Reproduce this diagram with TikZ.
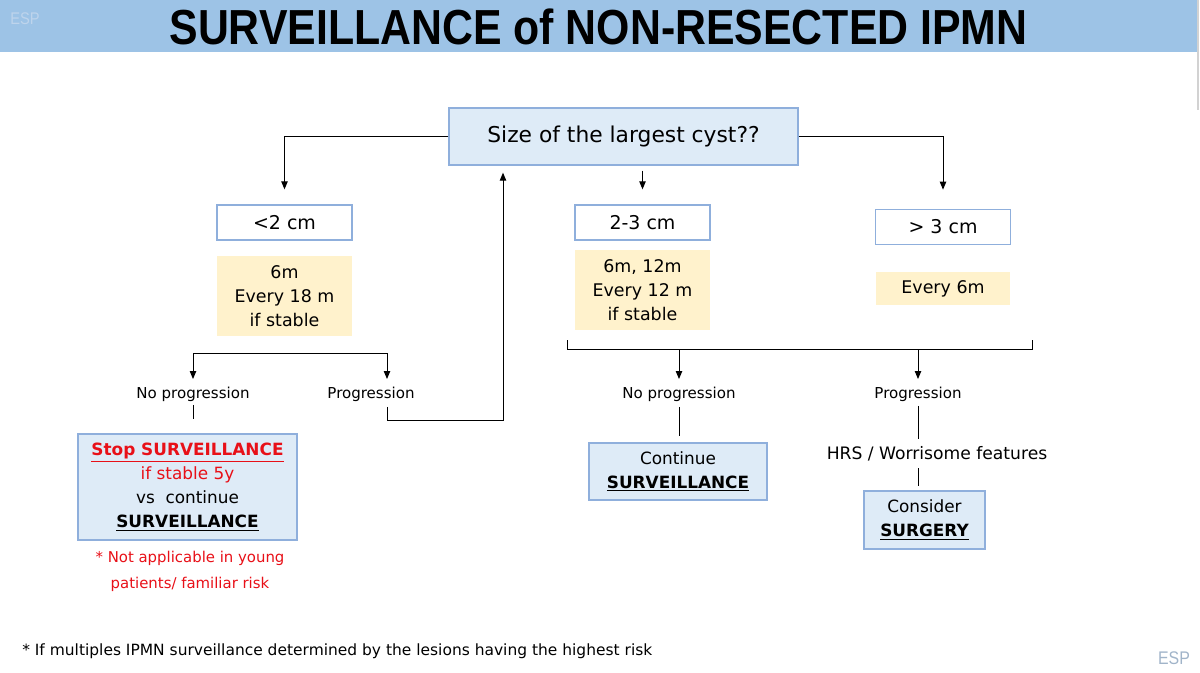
\documentclass[tikz,border=0pt]{standalone}
\usepackage{fontspec}
\setmainfont{DejaVu Sans}
\newfontfamily\titlefont[FakeStretch=0.87]{Liberation Sans}
\usetikzlibrary{arrows.meta,positioning,calc}
\definecolor{band}{RGB}{157,195,230}
\definecolor{pale}{RGB}{222,235,247}
\definecolor{frame}{RGB}{143,175,220}
\definecolor{cream}{RGB}{255,242,204}
\definecolor{piros}{RGB}{232,16,24}
\definecolor{esp}{RGB}{190,212,236}
\tikzset{
  arr/.style={-{Triangle[length=2mm,width=1.6mm]},line width=0.7pt},
  lin/.style={line width=0.7pt},
  qbox/.style={draw=frame,fill=pale,line width=0.9pt,minimum width=8.725cm,minimum height=1.425cm,font=\fontsize{15.5}{18}\selectfont},
  cat/.style={draw=frame,fill=white,line width=0.9pt,minimum width=3.375cm,minimum height=0.875cm,font=\fontsize{13.5}{16}\selectfont},
  freq/.style={fill=cream,minimum width=3.375cm,align=center,font=\fontsize{12.4}{17}\selectfont},
  res/.style={draw=frame,fill=pale,line width=0.9pt,align=center,font=\fontsize{12}{17}\selectfont},
  lbl/.style={inner sep=1pt,font=\fontsize{10.7}{13}\selectfont},
}

\begin{document}
\begin{tikzpicture}[x=0.025cm,y=-0.025cm]
  \useasboundingbox (0,0) rectangle (1200,672);
  % header
  \fill[band] (0,0) rectangle (1197,52);
  \draw[gray!35,line width=0.8pt] (1198,0) -- (1198,110);
  \node[text=esp,font=\titlefont\fontsize{12}{14}\selectfont] (esp1) at (25,19) {ESP};
  \node[font=\titlefont\bfseries\fontsize{35}{40}\selectfont] (title) at (598.5,27) {SURVEILLANCE of NON-RESECTED IPMN};
  \node[text=esp!85!black,font=\titlefont\fontsize{13}{15}\selectfont] (esp2) at (1174,658) {ESP};

  % question and size classes
  \node[qbox] (size) at (623.5,136.5) {Size of the largest cyst??};
  \node[cat] (lt2) at (284.5,222.5) {<2 cm};
  \node[cat] (mid) at (642.5,222.5) {2-3 cm};
  \node[cat] (gt3) at (943,227) {> 3 cm};
  \node[freq,minimum height=2cm,below=3.75mm of lt2] (f1) {6m\\Every 18 m\\if stable};
  \node[freq,minimum height=2cm,below=2.25mm of mid] (f2) {6m, 12m\\Every 12 m\\if stable};
  \node[freq,minimum width=3.35cm,minimum height=0.825cm,below=6.75mm of gt3] (f3) {Every 6m};

  \draw[arr,shorten >=3.75mm] (size.west) -| (lt2.north);
  \draw[arr,shorten >=4.8mm] (size.east) -| (gt3.north);
  \draw[arr,shorten <=1.25mm,shorten >=3.75mm] (mid.north |- size.south) -- (mid.north);

  % left branch
  \node[lbl] (nop1) at (193,394) {No progression};
  \node[lbl] (prog1) at (371,394) {Progression};
  \coordinate (b1l) at (193,353);
  \coordinate (b1r) at (387,353);
  \draw[arr,shorten >=1.5mm] (b1r) -- (b1l) -- (nop1.north);
  \draw[arr,shorten >=1.5mm] (b1r) -- (b1r |- prog1.north);
  \coordinate (ret) at (503,420);
  \draw[arr,shorten >=1.75mm] ([xshift=0.4cm,yshift=-0.1cm]prog1.south) |- (ret) -- (ret |- size.south);

  \node[res,minimum width=5.475cm,minimum height=2.65cm] (stop) at (187.5,487)
    {\textcolor{piros}{\textbf{\underline{Stop SURVEILLANCE}}}\\
     \textcolor{piros}{if stable 5y}\\
     vs\ \ continue\\
     \textbf{\underline{SURVEILLANCE}}};
  \draw[lin,shorten <=0.5mm,shorten >=3.5mm] (nop1.south) -- (nop1.south |- stop.north);
  \node[text=piros,align=center,font=\fontsize{10.6}{18.4}\selectfont] (note) at (190,571)
    {* Not applicable in young\\patients/ familiar risk};

  % right branch
  \coordinate (brl) at (567,340);
  \coordinate (brr) at (1032,340);
  \draw[lin] (brl) -- ++(0,9) -| (brr);
  \node[lbl] (nop2) at (679,394) {No progression};
  \node[lbl] (prog2) at (918,394) {Progression};
  \draw[arr,shorten >=1.5mm] (nop2.north |- 0,349) -- (nop2.north);
  \draw[arr,shorten >=1.5mm] (prog2.north |- 0,349) -- (prog2.north);

  \node[res,minimum width=4.45cm,minimum height=1.425cm] (cont) at (678,471.5)
    {Continue\\\textbf{\underline{SURVEILLANCE}}};
  \draw[lin,shorten <=1mm,shorten >=1.5mm] (nop2.south) -- (nop2.south |- cont.north);

  \node[inner sep=2pt,font=\fontsize{12.2}{15}\selectfont] (hrs) at (937,454) {HRS / Worrisome features};
  \node[res,minimum width=3.025cm,minimum height=1.45cm] (cons) at (924.5,520)
    {Consider\\\textbf{\underline{SURGERY}}};
  \draw[lin,shorten <=0.75mm,shorten >=1.25mm] (prog2.south) -- (prog2.south |- hrs.north);
  \draw[lin,shorten <=1mm,shorten >=1mm] (hrs.south -| prog2) -- (cons.north -| prog2);

  % footnote
  \node[anchor=west,inner sep=0pt,font=\fontsize{11}{13}\selectfont] (foot) at (22,651)
    {* If multiples IPMN surveillance determined by the lesions having the highest risk};
\end{tikzpicture}
\end{document}
